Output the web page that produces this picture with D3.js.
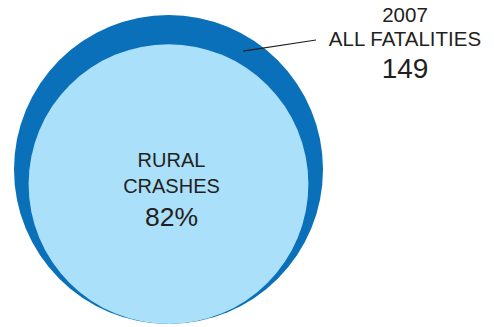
<!DOCTYPE html>
<html>
<head>
<meta charset="utf-8">
<script src="https://cdn.jsdelivr.net/npm/d3@7"></script>
<style>
  body { margin: 0; background: #fff; }
  text { font-family: "Liberation Sans", Arial, sans-serif; fill: #231f20; }
</style>
</head>
<body>
<svg id="chart" width="494" height="327"></svg>
<script>
// data
var year = "2007";
var totalLabel = ["ALL FATALITIES"];
var totalFatalities = 149;
var categories = ["All fatalities", "Rural crashes"];
var shares = [100, 82];          // percent of all fatalities
var innerLabel = ["RURAL", "CRASHES"];

var width = 494, height = 327;
var cx = 168.5, bottomY = 324;   // circles sit on a common bottom line
var maxR = 154.5;
var colors = ["#0a70b9", "#abe0fa"];

// area proportional to value
var r = d3.scaleSqrt()
    .domain([0, 100])
    .range([0, maxR]);

var svg = d3.select("#chart");

svg.selectAll(".bubble")
    .data(shares)
    .enter().append("circle")
    .attr("class", "bubble")
    .attr("cx", cx)
    .attr("cy", function (d) { return bottomY - r(d); })
    .attr("r", function (d) { return r(d); })
    .attr("fill", function (d, i) { return colors[i]; });

// leader line from outer ring to the label
var outerCy = bottomY - r(shares[0]);
var ang = -Math.PI / 2 + 0.562;    // point in the dark ring
var ringR = r(shares[1]);
svg.append("line")
    .attr("x1", cx + ringR * Math.cos(ang))
    .attr("y1", outerCy + ringR * Math.sin(ang))
    .attr("x2", 316)
    .attr("y2", 40)
    .attr("stroke", "#231f20")
    .attr("stroke-width", 1.1);

// outer label
var lbl = svg.append("g").attr("text-anchor", "middle");
lbl.append("text").attr("x", 405).attr("y", 22).style("font-size", "20.5px").text(year);
lbl.append("text").attr("x", 405).attr("y", 46).style("font-size", "20.5px").text(totalLabel[0]);
lbl.append("text").attr("x", 405).attr("y", 78).style("font-size", "28px").text(d3.format(",")(totalFatalities));

// inner label
var inner = svg.append("g").attr("text-anchor", "middle");
inner.selectAll(".il")
    .data(innerLabel)
    .enter().append("text")
    .attr("class", "il")
    .attr("x", 171.5)
    .attr("y", function (d, i) { return 167 + i * 26; })
    .style("font-size", "20px")
    .text(function (d) { return d; });
inner.append("text")
    .attr("x", 171.5)
    .attr("y", 226)
    .style("font-size", "26.5px")
    .text(shares[1] + "%");
</script>
</body>
</html>
